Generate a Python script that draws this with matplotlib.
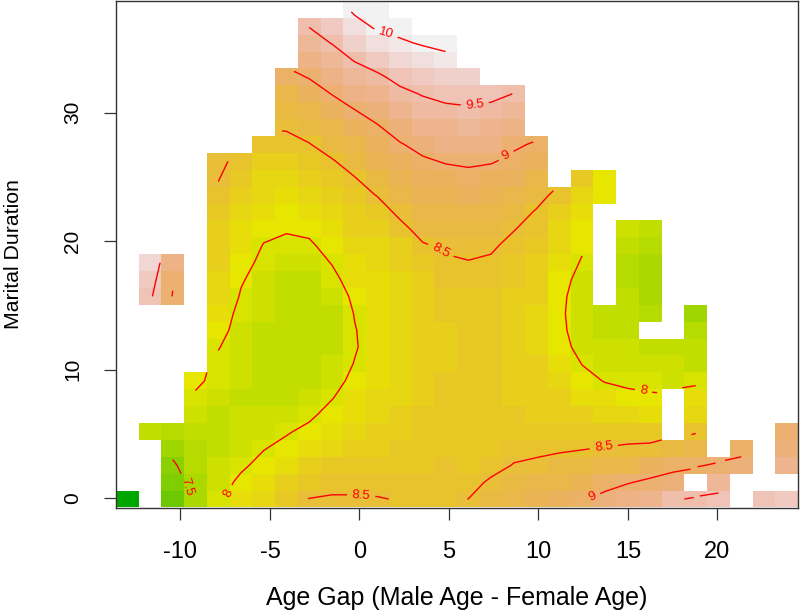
import colorsys
import numpy as np
import matplotlib
matplotlib.use('Agg')
import matplotlib.pyplot as plt
from matplotlib.colors import ListedColormap

plt.rcParams['font.family'] = ['Liberation Sans', 'DejaVu Sans']
plt.rcParams['axes.unicode_minus'] = False

n = np.nan

# grid of the surface
age_gap = np.linspace(-12.97, 23.87, 30)
duration = np.linspace(-0.08, 38.05, 30)

# predicted values, one list per age gap column, from duration row 0 upwards
col00 = [6.1] + [n]*29
col01 = [n]*4 + [7.78] + [n]*7 + [9.56, 9.67, 9.78] + [n]*15
col02 = [7.15, 7.3, 7.45, 7.6, 7.75] + [n]*7 + [8.98, 9.04, 9.15] + [n]*15
col03 = [7.62, 7.66, 7.72, 7.76, 7.8, 7.9, 7.97, 8.04] + [n]*22
col04 = [7.95, 7.9, 7.86, 7.84, 7.84, 7.85, 7.89, 7.94, 7.96, 8.01, 8.07, 8.12, 8.2, 8.25, 8.27, 8.3, 8.33, 8.4, 8.46, 8.51, 8.53] + [n]*9
col05 = [8.12, 8.05, 7.96, 7.9, 7.87, 7.86, 7.85, 7.86, 7.88, 7.9, 7.92, 7.94, 7.98, 8.02, 8.07, 8.12, 8.17, 8.22, 8.3, 8.37, 8.46] + [n]*9
col06 = [8.25, 8.17, 8.07, 7.99, 7.92, 7.87, 7.84, 7.82, 7.83, 7.84, 7.85, 7.86, 7.88, 7.91, 7.95, 7.99, 8.05, 8.12, 8.18, 8.25, 8.32, 8.42] + [n]*8
col07 = [8.38, 8.27, 8.17, 8.06, 7.98, 7.9, 7.85, 7.81, 7.8, 7.8, 7.81, 7.82, 7.83, 7.85, 7.89, 7.95, 8.02, 8.09, 8.16, 8.22, 8.29, 8.43, 8.52, 8.62, 8.72, 8.9] + [n]*4
col08 = [8.505, 8.38, 8.26, 8.16, 8.05, 7.96, 7.89, 7.84, 7.81, 7.8, 7.8, 7.8, 7.82, 7.85, 7.9, 7.97, 8.04, 8.11, 8.18, 8.26, 8.36, 8.49, 8.6, 8.7, 8.84, 9.02, 9.2, 9.37, 9.51] + [n]*1
col09 = [8.52, 8.44, 8.34, 8.24, 8.16, 8.07, 7.99, 7.93, 7.87, 7.84, 7.83, 7.83, 7.86, 7.94, 8.01, 8.07, 8.14, 8.21, 8.29, 8.38, 8.48, 8.6, 8.72, 8.85, 9.01, 9.16, 9.33, 9.51, 9.66] + [n]*1
col10 = [8.52, 8.44, 8.37, 8.3, 8.23, 8.17, 8.11, 8.05, 8.01, 7.98, 7.99, 8.01, 8.05, 8.1, 8.15, 8.2, 8.26, 8.32, 8.41, 8.49, 8.6, 8.72, 8.85, 8.99, 9.15, 9.33, 9.52, 9.71, 9.89, 10.06]
col11 = [8.51, 8.44, 8.39, 8.33, 8.27, 8.22, 8.18, 8.15, 8.13, 8.11, 8.1, 8.11, 8.13, 8.16, 8.2, 8.24, 8.3, 8.4, 8.51, 8.62, 8.74, 8.86, 8.97, 9.12, 9.28, 9.45, 9.64, 9.88, 10.05, 10.1]
col12 = [8.49, 8.42, 8.39, 8.35, 8.31, 8.28, 8.25, 8.23, 8.21, 8.2, 8.2, 8.2, 8.22, 8.24, 8.28, 8.33, 8.44, 8.55, 8.66, 8.77, 8.88, 8.98, 9.13, 9.28, 9.43, 9.59, 9.8, 9.97, 10.07] + [n]*1
col13 = [8.47, 8.43, 8.41, 8.39, 8.37, 8.34, 8.31, 8.29, 8.28, 8.27, 8.27, 8.28, 8.3, 8.33, 8.38, 8.48, 8.58, 8.68, 8.78, 8.88, 8.96, 9.09, 9.22, 9.38, 9.52, 9.7, 9.89, 10.02] + [n]*2
col14 = [8.48, 8.44, 8.42, 8.41, 8.4, 8.39, 8.36, 8.34, 8.33, 8.33, 8.33, 8.35, 8.37, 8.42, 8.47, 8.53, 8.62, 8.71, 8.8, 8.89, 9.02, 9.14, 9.28, 9.43, 9.59, 9.77, 9.97, 10.03] + [n]*2
col15 = [8.501, 8.43, 8.41, 8.4, 8.4, 8.39, 8.38, 8.37, 8.37, 8.37, 8.37, 8.39, 8.41, 8.44, 8.49, 8.56, 8.64, 8.71, 8.83, 8.93, 9.04, 9.16, 9.32, 9.46, 9.6, 9.75] + [n]*4
col16 = [8.62, 8.53, 8.43, 8.4, 8.38, 8.37, 8.36, 8.35, 8.36, 8.36, 8.36, 8.37, 8.38, 8.42, 8.47, 8.53, 8.62, 8.7, 8.78, 8.89, 9.02, 9.14, 9.28, 9.43, 9.57] + [n]*5
col17 = [8.73, 8.62, 8.51, 8.44, 8.38, 8.35, 8.33, 8.32, 8.31, 8.31, 8.31, 8.31, 8.32, 8.35, 8.39, 8.44, 8.51, 8.6, 8.73, 8.83, 8.94, 9.04, 9.17, 9.32, 9.495] + [n]*5
col18 = [8.8, 8.68, 8.55, 8.44, 8.36, 8.33, 8.3, 8.27, 8.26, 8.25, 8.25, 8.25, 8.26, 8.28, 8.31, 8.37, 8.42, 8.48, 8.58, 8.7, 8.83, 8.97] + [n]*8
col19 = [8.86, 8.72, 8.58, 8.47, 8.36, 8.31, 8.26, 8.2, 8.15, 8.08, 8.05, 8.04, 8.05, 8.08, 8.13, 8.18, 8.24, 8.3, 8.43] + [n]*11
col20 = [8.97, 8.76, 8.6, 8.49, 8.37, 8.27, 8.17, 8.07, 7.995, 7.93, 7.9, 7.89, 7.9, 7.93, 7.98, 8.03, 8.09, 8.15, 8.24, 8.35] + [n]*10
col21 = [9.08, 8.9, 8.68, 8.51, 8.38, 8.24, 8.1, 7.99, 7.92, 7.86, 7.83, 7.82] + [n]*6 + [8.03, 8.07] + [n]*10
col22 = [9.18, 8.98, 8.72, 8.53, 8.41, 8.2, 8.05, 7.96, 7.91, 7.88, 7.84, 7.81, 7.78, 7.75, 7.75, 7.78, 7.88] + [n]*13
col23 = [9.28, 9.05, 8.84, 8.56, 8.37, 8.16, 8.03, 7.94, 7.9, 7.82, n, 7.74, 7.65, 7.62, 7.62, 7.72, 7.78] + [n]*13
col24 = [9.46, 9.1, 8.93, 8.63, n, n, n, 7.93, 7.86, 7.78] + [n]*20
col25 = [9.54, n, 8.97, 8.73, 8.47, 8.25, 8.1, 7.96, 7.85, 7.78, 7.7, 7.58] + [n]*18
col26 = [9.6, 9.32, 9.04] + [n]*27
col27 = [n, n, 9.1, 8.9] + [n]*26
col28 = [9.62] + [n]*29
col29 = [9.65, n, 9.25, 9.1, 9.0] + [n]*25

columns = [col00, col01, col02, col03, col04, col05, col06, col07, col08, col09,
           col10, col11, col12, col13, col14, col15, col16, col17, col18, col19,
           col20, col21, col22, col23, col24, col25, col26, col27, col28, col29]

contour_levels = [7.5, 8, 8.5, 9, 9.5, 10]
x_ticks = [-10, -5, 0, 5, 10, 15, 20]
y_ticks = [0, 10, 20, 30]

z = np.array(columns).T


# same palette as terrain.colors(50) in R
def terrain_colors(count):
    half = count // 2
    cols = []
    for t in np.linspace(0, 1, half):
        cols.append(colorsys.hsv_to_rgb(4/12 - t*2/12, 1, 0.65 + t*0.25))
    for t in np.linspace(0, 1, count - half + 1)[1:]:
        cols.append(colorsys.hsv_to_rgb(2/12 - t*2/12, 1 - t, 0.9 + t*0.05))
    return cols


fig = plt.figure(figsize=(8, 6.12), dpi=100)
ax = fig.add_axes([116/800, 1 - 507.5/612, 682/800, 506.5/612])

cmap = ListedColormap(terrain_colors(50))
ax.pcolormesh(age_gap, duration, z, shading='nearest', cmap=cmap, vmin=6.1, vmax=10.1)

cs = ax.contour(age_gap, duration, z, levels=contour_levels, colors='#ff0000', linewidths=1.0)
label_spots = [(1.43, 36.0), (6.45, 30.6), (8.3, 26.4), (4.5, 19.16), (15.85, 8.2),
               (13.66, 3.8), (13.0, 0.08), (0.09, 0.08), (-7.2, 0.3), (-9.9, 0.8)]
ax.clabel(cs, fmt='%g', fontsize=9.5, manual=label_spots)

ax.set_xlim(-13.6, 24.5)
ax.set_ylim(-0.74, 38.7)

ax.set_xticks(x_ticks)
ax.set_yticks(y_ticks)
ax.tick_params(axis='both', length=8.4, width=0.9, color='#333333')
ax.tick_params(axis='x', labelsize=17, pad=15.5)
ax.tick_params(axis='y', labelsize=15, pad=16)
for lab in ax.get_yticklabels():
    lab.set_rotation(90)
    lab.set_va('center')
for side in ax.spines.values():
    side.set_linewidth(1.0)
    side.set_color('#333333')

ax.set_xlabel('Age Gap (Male Age - Female Age)', fontsize=18, labelpad=16.5)
ax.set_ylabel('Marital Duration', fontsize=15.3, labelpad=28.6)

fig.savefig('out.png', dpi=100)
